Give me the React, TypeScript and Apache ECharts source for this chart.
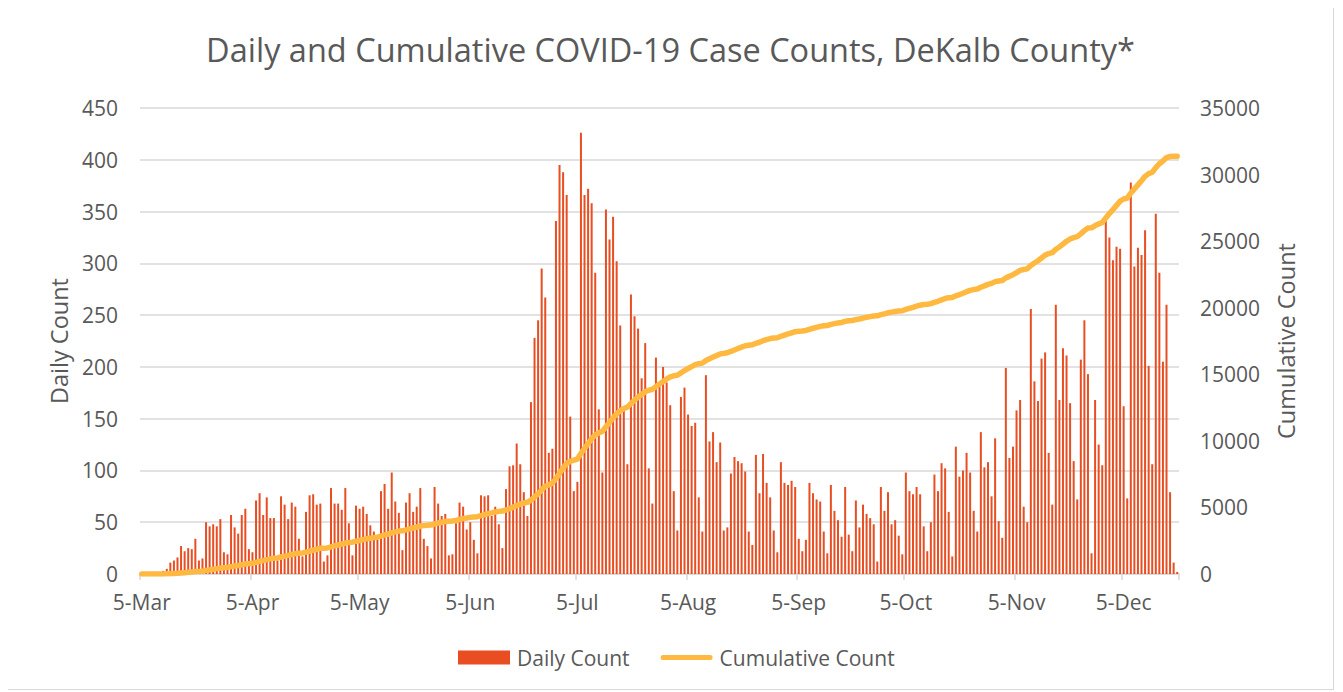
import React, { useEffect, useRef } from "react";
import * as echarts from "echarts";

// Daily counts from 5-Mar (index 0) to 20-Dec
const dailyCounts: number[] = [
  0, 0, 0, 1, 1, 2, 3, 5, 11, 13, 16, 27, 22, 25, 24, 34, 13, 15, 50, 46, 48, 46, 53, 21, 19, 57, 45, 39, 57, 63, 24, 21, 71, 78, 57,
  74, 54, 54, 13, 75, 67, 53, 69, 65, 34, 17, 60, 76, 77, 67, 68, 12, 18, 83, 68, 68, 62, 83, 49, 18, 66, 63, 65, 58, 47, 41, 33, 80, 87, 63,
  98, 70, 59, 23, 69, 78, 60, 65, 83, 34, 27, 15, 84, 68, 56, 58, 18, 19, 49, 69, 65, 43, 50, 33, 20, 76, 75, 76, 56, 65, 48, 25, 82, 104, 105,
  126, 106, 79, 56, 166, 228, 245, 295, 267, 117, 121, 341, 395, 388, 366, 152, 80, 89, 426, 366, 372, 358, 291, 159, 98, 352, 323, 345, 302, 240, 158, 106, 270, 249,
  237, 189, 223, 102, 68, 209, 181, 200, 185, 163, 80, 42, 171, 180, 154, 143, 146, 74, 41, 192, 128, 137, 108, 127, 42, 45, 97, 113, 109, 107, 99, 41, 28, 115, 78,
  116, 88, 74, 42, 21, 108, 88, 86, 90, 84, 34, 22, 33, 88, 78, 72, 70, 41, 20, 86, 61, 52, 36, 84, 38, 22, 71, 45, 67, 58, 54, 48, 12, 84, 61,
  79, 48, 52, 37, 19, 98, 80, 77, 84, 77, 46, 22, 50, 96, 80, 107, 102, 60, 17, 123, 94, 100, 117, 98, 61, 41, 137, 103, 108, 75, 131, 51, 35, 199, 112,
  123, 158, 168, 65, 50, 256, 186, 167, 208, 214, 117, 67, 260, 168, 218, 211, 165, 109, 72, 207, 245, 193, 20, 168, 125,
  105, 344, 325, 303, 316, 314, 162, 73, 378, 297, 315, 308, 332, 201, 106, 348, 291, 205, 260, 79, 11, 2,
];

const monthNames: string[] = ["Jan", "Feb", "Mar", "Apr", "May", "Jun", "Jul", "Aug", "Sep", "Oct", "Nov", "Dec"];
const startYear = 2020;
const startMonthIndex = 2; // March
const startDay = 5;

const dateLabels: string[] = dailyCounts.map((_, i) => {
  const d = new Date(Date.UTC(startYear, startMonthIndex, startDay + i));
  return `${d.getUTCDate()}-${monthNames[d.getUTCMonth()]}`;
});

// Cumulative count = running total of the daily counts
const cumulativeCounts: number[] = dailyCounts.reduce<number[]>((acc, v) => {
  acc.push((acc.length ? acc[acc.length - 1] : 0) + v);
  return acc;
}, []);

const titleText = "Daily and Cumulative COVID-19 Case Counts, DeKalb County*";
const FONT = "'Open Sans', sans-serif";
const TEXT_COLOR = "#595959";
const LINE_ICON = "path://M2.5,0 L49.5,0 A2.5,2.5 0 0 1 49.5,5 L2.5,5 A2.5,2.5 0 0 1 2.5,0 Z";

export default function App() {
  const ref = useRef<HTMLDivElement>(null);

  useEffect(() => {
    if (!ref.current) return;
    const chart = echarts.init(ref.current, null, { renderer: "svg" });
    chart.setOption({
      animation: false,
      backgroundColor: "#ffffff",
      textStyle: { fontFamily: FONT, color: TEXT_COLOR },
      title: {
        text: titleText,
        left: "center",
        top: 20,
        textStyle: { fontFamily: FONT, fontSize: 32.5, fontWeight: "normal", color: TEXT_COLOR },
      },
      legend: {
        bottom: 16,
        left: 445,
        itemGap: 31,
        itemWidth: 52,
        itemHeight: 14,
        symbolKeepAspect: true,
        textStyle: { fontFamily: FONT, fontSize: 21, color: TEXT_COLOR, padding: [0, 0, 0, 2] },
        data: [
          { name: "Daily Count", icon: "rect" },
          { name: "Cumulative Count", icon: LINE_ICON },
        ],
      },
      grid: { left: 132, right: 154, top: 100, bottom: 115, containLabel: false },
      xAxis: {
        type: "category",
        data: dateLabels,
        boundaryGap: true,
        axisLine: { lineStyle: { color: "#d9d9d9", width: 1.5 } },
        axisTick: {
          show: true,
          alignWithLabel: false,
          length: 6,
          lineStyle: { color: "#d9d9d9", width: 1.5 },
          interval: (idx: number, val: string) => val.startsWith("5-"),
        },
        axisLabel: {
          interval: (idx: number, val: string) => val.startsWith("5-"),
          fontFamily: FONT,
          fontSize: 21,
          color: TEXT_COLOR,
          margin: 17,
        },
        splitLine: { show: false },
      },
      yAxis: [
        {
          type: "value",
          min: 0,
          max: 450,
          interval: 50,
          name: "Daily Count",
          nameLocation: "middle",
          nameRotate: 90,
          nameGap: 69,
          nameTextStyle: { fontFamily: FONT, fontSize: 23.5, color: TEXT_COLOR },
          axisLine: { show: false },
          axisTick: { show: false },
          axisLabel: { fontFamily: FONT, fontSize: 21, color: TEXT_COLOR, margin: 22 },
          splitLine: { lineStyle: { color: "#d9d9d9", width: 1.5 } },
        },
        {
          type: "value",
          min: 0,
          max: 35000,
          interval: 5000,
          name: "Cumulative Count",
          nameLocation: "middle",
          nameRotate: 90,
          nameGap: 95,
          nameTextStyle: { fontFamily: FONT, fontSize: 23.5, color: TEXT_COLOR },
          axisLine: { show: false },
          axisTick: { show: false },
          axisLabel: {
            fontFamily: FONT,
            fontSize: 21,
            color: TEXT_COLOR,
            margin: 21,
            formatter: (v: number) => String(v),
          },
          splitLine: { show: false },
        },
      ],
      series: [
        {
          name: "Daily Count",
          type: "bar",
          yAxisIndex: 0,
          data: dailyCounts,
          barWidth: 2,
          itemStyle: { color: "#E84E22" },
        },
        {
          name: "Cumulative Count",
          type: "line",
          yAxisIndex: 1,
          data: cumulativeCounts,
          showSymbol: false,
          symbol: "none",
          lineStyle: { color: "#FFB940", width: 5.5, cap: "round", join: "round" },
          itemStyle: { color: "#FFB940" },
        },
      ],
    });
    return () => chart.dispose();
  }, []);

  return (
    <div
      style={{
        width: 1327,
        height: 683,
        border: "1px solid #d9d9d9",
        boxSizing: "border-box",
        marginLeft: -1,
        marginTop: -1,
      }}
    >
      <div ref={ref} style={{ width: 1325, height: 681 }} />
    </div>
  );
}
